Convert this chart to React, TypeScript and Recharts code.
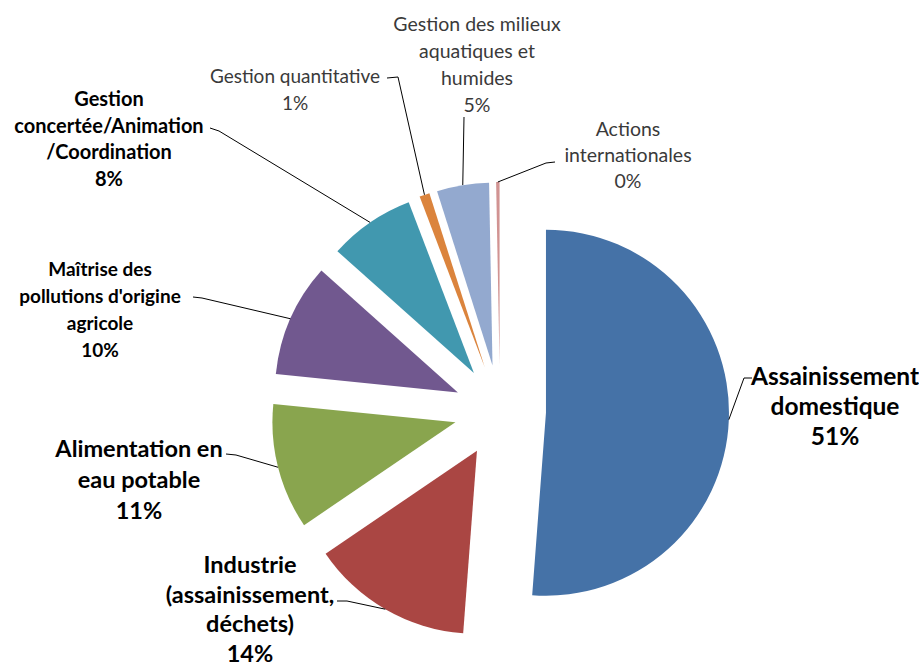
import { PieChart, Pie, Sector } from "recharts";

// category names, "\n" marks where the original label wraps
const CATEGORIES = [
  "Assainissement\ndomestique",
  "Industrie\n(assainissement,\ndéchets)",
  "Alimentation en\neau potable",
  "Maîtrise des\npollutions d'origine\nagricole",
  "Gestion\nconcertée/Animation\n/Coordination",
  "Gestion quantitative",
  "Gestion des milieux\naquatiques et\nhumides",
  "Actions\ninternationales",
];
const SHARES = [51.2, 14.3, 11.1, 10.0, 7.6, 0.9, 4.6, 0.3];
const COLORS = ["#4572A7", "#AA4643", "#89A54E", "#71588F", "#4198AF", "#DB843D", "#93A9CF", "#D19392"];

const data = CATEGORIES.map((name, i) => ({ name, value: SHARES[i] }));

const W = 919;
const H = 666;
const EXPLODE = 46;
const RAD = Math.PI / 180;
const FONT = "Lato, 'Open Sans', sans-serif";

type LabelBox = {
  x: number; // centre of the text block
  y: number; // centre of first line
  lh: number;
  size: number;
  bold: boolean;
  color: string;
  hook: [number, number][]; // leader points from label side, the slice end is added
};

// where each data label was placed (Excel style, dragged by hand)
const LABELS: LabelBox[] = [
  { x: 835, y: 375, lh: 30, size: 24.5, bold: true, color: "#000", hook: [[752, 378], [744, 378]] },
  { x: 250, y: 564, lh: 29.5, size: 23.5, bold: true, color: "#000", hook: [[337, 601], [347, 601]] },
  { x: 139, y: 448, lh: 31, size: 23.5, bold: true, color: "#000", hook: [[226, 454], [236, 455]] },
  { x: 100, y: 268, lh: 27, size: 19, bold: true, color: "#000", hook: [[193, 297], [202, 298]] },
  { x: 109, y: 98, lh: 26.5, size: 20, bold: true, color: "#000", hook: [[210, 128], [219, 131]] },
  { x: 295, y: 75, lh: 27, size: 19, bold: false, color: "#3a3a3a", hook: [[387, 78], [398, 77]] },
  { x: 477, y: 23, lh: 27, size: 19.5, bold: false, color: "#3a3a3a", hook: [[464, 117]] },
  { x: 628, y: 128, lh: 26, size: 19.5, bold: false, color: "#3a3a3a", hook: [[555, 162], [546, 163]] },
];

function renderSlice(props: any) {
  const { cx, cy, midAngle, outerRadius, startAngle, endAngle, index, percent } = props;
  const ux = Math.cos(-midAngle * RAD);
  const uy = Math.sin(-midAngle * RAD);
  const ox = cx + EXPLODE * ux;
  const oy = cy + EXPLODE * uy;
  const edge: [number, number] = [ox + outerRadius * ux, oy + outerRadius * uy];
  const L = LABELS[index];
  const lines = [...CATEGORIES[index].split("\n"), `${Math.round(percent * 100)}%`];
  const pts = [...L.hook, edge].map((p) => p.join(",")).join(" ");
  return (
    <g>
      <Sector
        cx={ox}
        cy={oy}
        innerRadius={0}
        outerRadius={outerRadius}
        startAngle={startAngle}
        endAngle={endAngle}
        fill={COLORS[index]}
        stroke="none"
      />
      <polyline points={pts} fill="none" stroke="#000" strokeWidth={1} />
      <text
        textAnchor="middle"
        dominantBaseline="central"
        fontFamily={FONT}
        fontSize={L.size}
        fontWeight={L.bold ? 700 : 400}
        fill={L.color}
      >
        {lines.map((t, k) => (
          <tspan key={k} x={L.x} y={L.y + k * L.lh}>
            {t}
          </tspan>
        ))}
      </text>
    </g>
  );
}

export default function App() {
  return (
    <div style={{ position: "absolute", left: 0, top: 0, width: W, height: H, background: "#fff" }}>
      <PieChart width={W} height={H} margin={{ top: 0, right: 0, bottom: 0, left: 0 }}>
        <Pie
          data={data}
          dataKey="value"
          nameKey="name"
          cx={500}
          cy={411}
          outerRadius={183}
          startAngle={90}
          endAngle={-270}
          fill="none"
          stroke="none"
          label={renderSlice}
          labelLine={false}
          isAnimationActive={false}
        />
      </PieChart>
    </div>
  );
}
